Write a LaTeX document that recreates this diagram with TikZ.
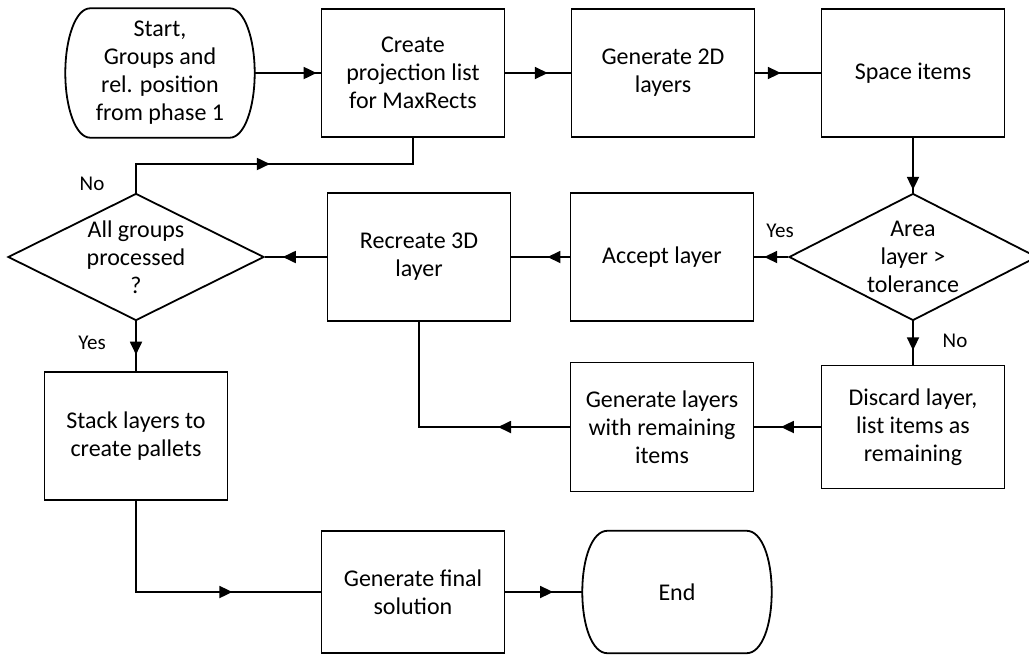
\documentclass[tikz,border=0pt]{standalone}
\usepackage{fontspec}
\setmainfont{Carlito}
\usetikzlibrary{shapes.geometric, arrows.meta, decorations.markings}

\tikzset{
  box/.style = {draw, line width = 1.8pt, minimum width = 183pt, minimum height = 128pt, align = center, inner sep = 2pt},
  term/.style = {minimum width = 189pt, minimum height = 129pt, align = center, inner sep = 1pt},
  termline/.style = {line width = 1.8pt, line join = round},
  decision/.style = {draw, diamond, aspect = 2, line width = 1.8pt, minimum width = 256pt, minimum height = 127pt, inner sep = -2pt, align = center},
  flow/.style = {line width = 1.8pt, postaction = {decorate},
    decoration = {markings, mark = at position #1 with {\arrow{Triangle[length=13pt,width=12pt]}}}},
  answer/.style = {font = \fontsize{21}{25}\selectfont}
}

% outline of a start/end node
\newcommand{\termoutline}[1]{%
  \draw [termline] (#1.north) -- ([xshift=-25pt]#1.north east)
    .. controls ([xshift=-10pt]#1.north east) and ([yshift=34pt]#1.east) .. (#1.east)
    .. controls ([yshift=-34pt]#1.east) and ([xshift=-10pt]#1.south east) .. ([xshift=-25pt]#1.south east)
    -- ([xshift=25pt]#1.south west)
    .. controls ([xshift=10pt]#1.south west) and ([yshift=-34pt]#1.west) .. (#1.west)
    .. controls ([yshift=34pt]#1.west) and ([xshift=10pt]#1.north west) .. ([xshift=25pt]#1.north west)
    -- cycle;
}

\begin{document}
\begin{tikzpicture}[x = 1pt, y = -1pt, every node/.style = {font = \fontsize{24}{28}\selectfont}]
\useasboundingbox (0,0) rectangle (1029,656);
% top row
\node (start) at (160,73) [term] {Start,\\Groups and\\rel. position\\from phase 1};
\termoutline{start}
\node (create) at (413,73) [box] {Create\\projection list\\for MaxRects};
\node (gen2d) at (663,73) [box] {Generate 2D\\layers};
\node (space) at (913,73) [box] {Space items};
% middle row
\node (allgroups) at (136,257) [decision] {All groups\\processed\\?};
\node (recreate) at (419,257) [box] {Recreate 3D\\layer};
\node (accept) at (662,257) [box] {Accept layer};
\node (area) at (913,257) [decision, minimum width = 248pt] {Area\\layer >\\tolerance};
% lower rows
\node (stack) at (136,436) [box] {Stack layers to\\create pallets};
\node (genrem) at (662,427) [box, minimum height = 129pt] {Generate layers\\with remaining\\items};
\node (discard) at (913,427) [box, minimum height = 123pt] {Discard layer,\\list items as\\remaining};
\node (final) at (413,592) [box, minimum height = 122pt] {Generate final\\solution};
\node (end) at (677,592) [term, minimum height = 122pt] {End};
\termoutline{end}
% connectors
\draw [flow = 0.94] (start.east) -- (create.west);
\draw [flow = 0.65] (create.east) -- (gen2d.west);
\draw [flow = 0.39] (gen2d.east) -- (space.west);
\draw [flow = 0.95] (space.south) -- (area.north);
\draw [flow = 0.71] (area.west) -- (accept.east);
\draw [flow = 0.38] (accept.west) -- (recreate.east);
\draw [flow = 0.71] (recreate.west) -- (allgroups.east);
\draw [flow = 0.49] (allgroups.north) |- (413,164) -- (create.south);
\draw [flow = 0.67] (area.south) -- (discard.north);
\draw [flow = 0.67] (allgroups.south) -- (stack.north);
\draw [flow = 0.6] (discard.west) -- (genrem.east);
\draw [flow = 0.28] (genrem.west) -| (recreate.south);
\draw [flow = 0.68] (stack.south) |- (final.west);
\draw [flow = 0.62] (final.east) -- (end.west);
% answers
\node (no1) at (92,184) [answer] {No};
\node (yes1) at (780,231) [answer] {Yes};
\node (yes2) at (92,343) [answer] {Yes};
\node (no2) at (955,341) [answer] {No};
\end{tikzpicture}
\end{document}
